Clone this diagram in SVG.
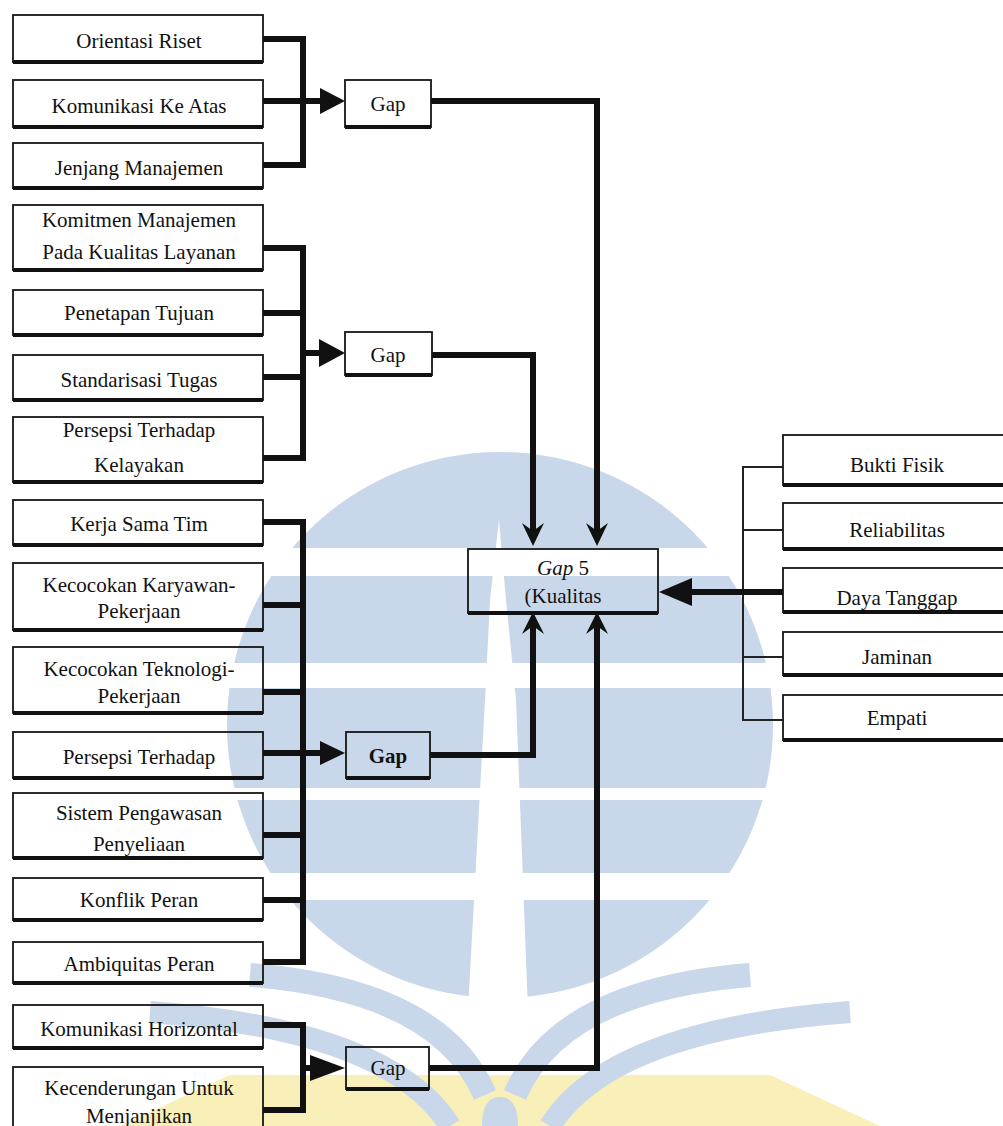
<svg xmlns="http://www.w3.org/2000/svg" width="1003" height="1126" viewBox="0 0 1003 1126">
<style>
.box{fill:none;stroke:#161616;stroke-width:1.8}
.base{stroke:#111;stroke-width:4}
.t{font-family:"Liberation Serif","Times New Roman",serif;font-size:21px;fill:#111;text-anchor:middle}
.it{font-style:italic}
.c{fill:none;stroke:#111;stroke-width:6;stroke-linejoin:miter;stroke-linecap:butt}
.thin{fill:none;stroke:#222;stroke-width:2}
.ah{fill:#111}
.wm{fill:#c9d7ea}
.wmb{fill:none;stroke:#c9d7ea}
.wh{fill:#ffffff}
</style>
<rect width="1003" height="1126" fill="#ffffff"/>
<g id="watermark">
  <polygon points="120,1126 230,1075 770,1075 880,1126" fill="#f9efb8"/>
  <circle cx="500" cy="725" r="273" class="wm"/>
  <rect x="215" y="548" width="570" height="28" class="wh"/>
  <rect x="215" y="663" width="570" height="25" class="wh"/>
  <rect x="215" y="788" width="570" height="12" class="wh"/>
  <rect x="215" y="873" width="570" height="27" class="wh"/>
  <polygon points="499,520 506,600 516,700 528,1010 468,1010 485,700 490,600" class="wh"/>
  <path d="M250 975 Q440 990 485 1095" class="wmb" stroke-width="24"/>
  <path d="M150 1012 Q390 1030 450 1126" class="wmb" stroke-width="22"/>
  <path d="M750 975 Q560 990 515 1095" class="wmb" stroke-width="24"/>
  <path d="M850 1012 Q610 1030 550 1126" class="wmb" stroke-width="22"/>
  <path d="M482 1126 Q482 1097 500 1097 Q518 1097 518 1126 Z" class="wm"/>
</g>
<g id="connectors">
  <!-- group 1 -->
  <polyline class="c" points="263,39 303,39 303,165 263,165"/>
  <line class="c" x1="263" y1="101" x2="322" y2="101"/>
  <polygon class="ah" points="320,88 345,101 320,114"/>
  <!-- group 2 -->
  <polyline class="c" points="263,248 303,248 303,458 263,458"/>
  <line class="c" x1="263" y1="313" x2="303" y2="313"/>
  <line class="c" x1="263" y1="377" x2="303" y2="377"/>
  <line class="c" x1="303" y1="353" x2="322" y2="353"/>
  <polygon class="ah" points="319,339 345,353 319,367"/>
  <!-- group 3 -->
  <polyline class="c" points="263,522 303,522 303,962 263,962"/>
  <line class="c" x1="263" y1="605" x2="303" y2="605"/>
  <line class="c" x1="263" y1="692" x2="303" y2="692"/>
  <line class="c" x1="263" y1="753" x2="322" y2="753"/>
  <line class="c" x1="263" y1="835" x2="303" y2="835"/>
  <line class="c" x1="263" y1="900" x2="303" y2="900"/>
  <polygon class="ah" points="320,741 345,753 320,765"/>
  <!-- group 4 -->
  <polyline class="c" points="263,1025 303,1025 303,1110 263,1110"/>
  <line class="c" x1="303" y1="1068" x2="322" y2="1068"/>
  <polygon class="ah" points="310,1055 345,1068 310,1081"/>
  <!-- gap outputs -->
  <polyline class="c" points="431,101 597,101 597,535"/>
  <polygon class="ah" points="586,523 597,531 608,523 597,546"/>
  <polyline class="c" points="432,355 533,355 533,535"/>
  <polygon class="ah" points="522,523 533,531 544,523 533,546"/>
  <polyline class="c" points="430,755 533,755 533,622"/>
  <polygon class="ah" points="522,634 533,626 544,634 533,612"/>
  <polyline class="c" points="429,1068 597,1068 597,622"/>
  <polygon class="ah" points="586,634 597,626 608,634 597,612"/>
  <!-- right side -->
  <polyline class="thin" points="783,467 743,467 743,720 783,720"/>
  <line class="thin" x1="743" y1="530" x2="783" y2="530"/>
  <line class="thin" x1="743" y1="657" x2="783" y2="657"/>
  <line class="c" x1="783" y1="592" x2="688" y2="592" stroke-width="8"/>
  <polygon class="ah" points="692,578 659,592 692,606"/>
</g>
<g id="n1"><rect class="box" x="13" y="15" width="250" height="47"/><line class="base" x1="13" y1="62" x2="263" y2="62"/><text class="t" x="139" y="48">Orientasi Riset</text></g>
<g id="n2"><rect class="box" x="13" y="80" width="250" height="47"/><line class="base" x1="13" y1="127" x2="263" y2="127"/><text class="t" x="139" y="113">Komunikasi Ke Atas</text></g>
<g id="n3"><rect class="box" x="13" y="143" width="250" height="45"/><line class="base" x1="13" y1="188" x2="263" y2="188"/><text class="t" x="139" y="175">Jenjang Manajemen</text></g>
<g id="n4"><rect class="box" x="13" y="205" width="250" height="65"/><line class="base" x1="13" y1="270" x2="263" y2="270"/><text class="t" x="139" y="227">Komitmen Manajemen</text><text class="t" x="139" y="259">Pada Kualitas Layanan</text></g>
<g id="n5"><rect class="box" x="13" y="290" width="250" height="45"/><line class="base" x1="13" y1="335" x2="263" y2="335"/><text class="t" x="139" y="320">Penetapan Tujuan</text></g>
<g id="n6"><rect class="box" x="13" y="355" width="250" height="45"/><line class="base" x1="13" y1="400" x2="263" y2="400"/><text class="t" x="139" y="387">Standarisasi Tugas</text></g>
<g id="n7"><rect class="box" x="13" y="417" width="250" height="65"/><line class="base" x1="13" y1="482" x2="263" y2="482"/><text class="t" x="139" y="437">Persepsi Terhadap</text><text class="t" x="139" y="472">Kelayakan</text></g>
<g id="n8"><rect class="box" x="13" y="500" width="250" height="45"/><line class="base" x1="13" y1="545" x2="263" y2="545"/><text class="t" x="139" y="531">Kerja Sama Tim</text></g>
<g id="n9"><rect class="box" x="13" y="563" width="250" height="67"/><line class="base" x1="13" y1="630" x2="263" y2="630"/><text class="t" x="139" y="592">Kecocokan Karyawan-</text><text class="t" x="139" y="618">Pekerjaan</text></g>
<g id="n10"><rect class="box" x="13" y="647" width="250" height="66"/><line class="base" x1="13" y1="713" x2="263" y2="713"/><text class="t" x="139" y="676">Kecocokan Teknologi-</text><text class="t" x="139" y="703">Pekerjaan</text></g>
<g id="n11"><rect class="box" x="13" y="732" width="250" height="46"/><line class="base" x1="13" y1="778" x2="263" y2="778"/><text class="t" x="139" y="764">Persepsi Terhadap</text></g>
<g id="n12"><rect class="box" x="13" y="793" width="250" height="65"/><line class="base" x1="13" y1="858" x2="263" y2="858"/><text class="t" x="139" y="820">Sistem Pengawasan</text><text class="t" x="139" y="851">Penyeliaan</text></g>
<g id="n13"><rect class="box" x="13" y="878" width="250" height="42"/><line class="base" x1="13" y1="920" x2="263" y2="920"/><text class="t" x="139" y="907">Konflik Peran</text></g>
<g id="n14"><rect class="box" x="13" y="942" width="250" height="41"/><line class="base" x1="13" y1="983" x2="263" y2="983"/><text class="t" x="139" y="971">Ambiquitas Peran</text></g>
<g id="n15"><rect class="box" x="13" y="1005" width="250" height="43"/><line class="base" x1="13" y1="1048" x2="263" y2="1048"/><text class="t" x="139" y="1036">Komunikasi Horizontal</text></g>
<g id="n16"><rect class="box" x="13" y="1067" width="250" height="80"/><text class="t" x="139" y="1095">Kecenderungan Untuk</text><text class="t" x="139" y="1123">Menjanjikan</text></g>
<g id="gap1"><rect class="box" x="345" y="80" width="86" height="47"/><line class="base" x1="345" y1="127" x2="431" y2="127"/><text class="t" x="388" y="111">Gap</text></g>
<g id="gap2"><rect class="box" x="345" y="332" width="87" height="43"/><line class="base" x1="345" y1="375" x2="432" y2="375"/><text class="t" x="388" y="362">Gap</text></g>
<g id="gap3"><rect class="box" x="346" y="732" width="84" height="46"/><line class="base" x1="346" y1="778" x2="430" y2="778"/><text class="t" x="388" y="763" font-weight="bold">Gap</text></g>
<g id="gap4"><rect class="box" x="346" y="1047" width="83" height="42"/><line class="base" x1="346" y1="1089" x2="429" y2="1089"/><text class="t" x="388" y="1075">Gap</text></g>
<g id="gap5"><rect class="box" x="468" y="549" width="190" height="64"/><line class="base" x1="468" y1="613" x2="658" y2="613"/><text class="t" x="563" y="575"><tspan class="it">Gap</tspan> 5</text><text class="t" x="563" y="603">(Kualitas</text></g>
<g id="r1"><rect class="box" x="783" y="435" width="230" height="50"/><line class="base" x1="783" y1="485" x2="1003" y2="485"/><text class="t" x="897" y="472">Bukti Fisik</text></g>
<g id="r2"><rect class="box" x="783" y="503" width="230" height="46"/><line class="base" x1="783" y1="549" x2="1003" y2="549"/><text class="t" x="897" y="537">Reliabilitas</text></g>
<g id="r3"><rect class="box" x="783" y="568" width="230" height="44"/><line class="base" x1="783" y1="612" x2="1003" y2="612"/><text class="t" x="897" y="605">Daya Tanggap</text></g>
<g id="r4"><rect class="box" x="783" y="632" width="230" height="43"/><line class="base" x1="783" y1="675" x2="1003" y2="675"/><text class="t" x="897" y="664">Jaminan</text></g>
<g id="r5"><rect class="box" x="783" y="695" width="230" height="45"/><line class="base" x1="783" y1="740" x2="1003" y2="740"/><text class="t" x="897" y="725">Empati</text></g>
</svg>
